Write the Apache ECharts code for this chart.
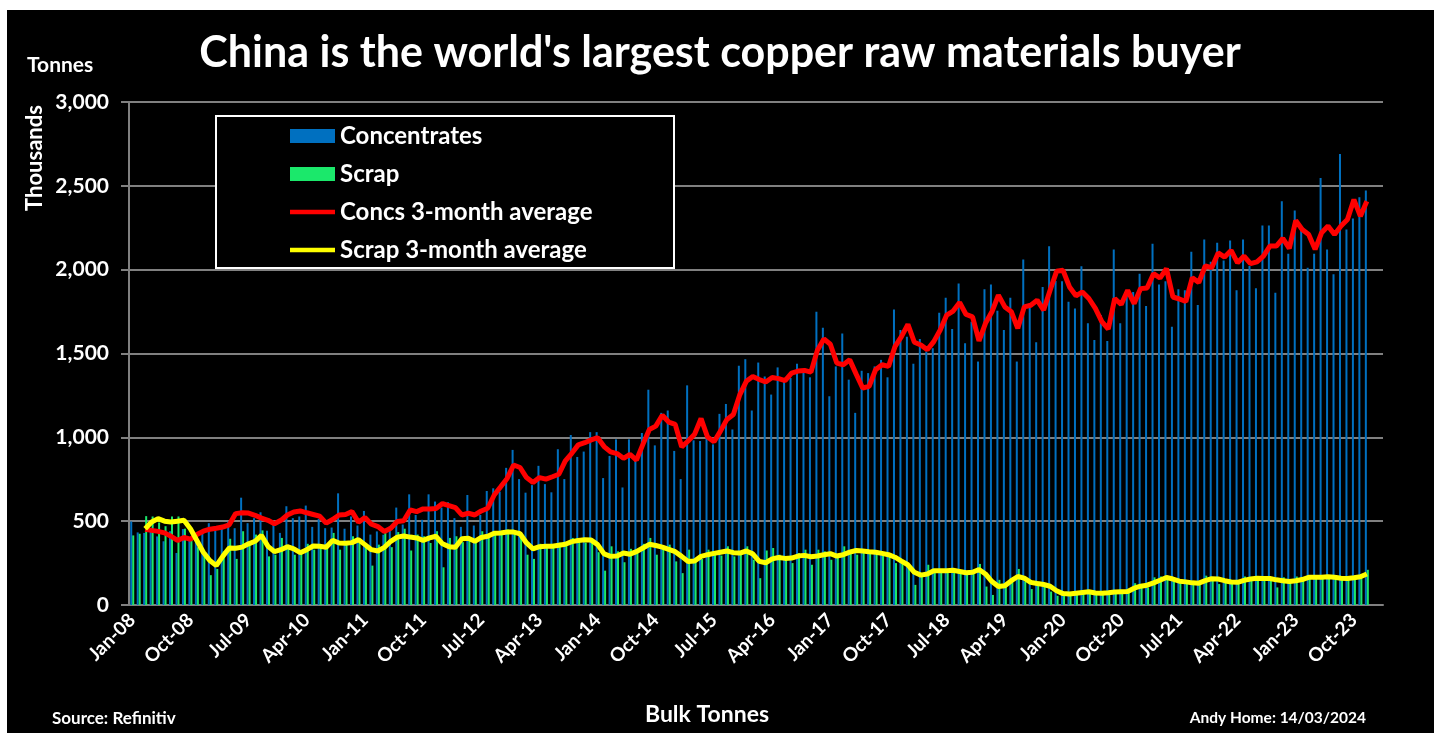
<!DOCTYPE html>
<html><head><meta charset="utf-8">
<script src="https://cdn.jsdelivr.net/npm/echarts@6/dist/echarts.min.js"></script>
<style>
html,body{margin:0;padding:0;background:#fff;width:1439px;height:733px;overflow:hidden}
#bg{position:absolute;left:7px;top:10px;width:1427px;height:723px;background:#000}
#chart{position:absolute;left:0;top:0;width:1439px;height:733px}
</style></head><body>
<div id="bg"></div><div id="chart"></div>
<script>
const MONTHS = ['Jan','Feb','Mar','Apr','May','Jun','Jul','Aug','Sep','Oct','Nov','Dec'];
const START_YEAR = 2008;
const N_CATEGORIES = 194; // Jan-08 .. Feb-24
const categories = [];
for (let i = 0; i < N_CATEGORIES; i++) {
  const y = START_YEAR + Math.floor(i / 12);
  categories.push(MONTHS[i % 12] + '-' + String(y % 100).padStart(2, '0'));
}
const yTicks = [0, 500, 1000, 1500, 2000, 2500, 3000];

// Concentrates imports, thousand tonnes (Jan-08 .. Dec-23)
const concentrates = [
  498,433,430,440,409,380,440,310,453,400,430,443,488,443,464,498,458,640,488,518,553,443,478,430,589,518,528,593,466,514,458,462,
  666,455,528,474,561,420,439,419,470,581,480,660,537,508,660,617,581,613,518,466,656,474,537,680,696,676,818,925,751,670,715,830,
  721,672,929,751,1014,883,915,1031,1031,757,889,988,701,988,860,1026,1284,952,1146,1160,919,751,1310,982,978,1000,958,1140,1199,1047,1427,1466,1160,
  1446,1363,1255,1417,1334,1354,1439,1393,1358,1749,1654,1245,1423,1620,1344,1146,1397,1383,1423,1462,1358,1763,1640,1600,1439,1587,1512,1531,1743,1832,1646,1917,
  1561,1690,1452,1883,1911,1755,1640,1832,1452,2061,1798,1567,1897,2140,1933,1931,1808,1769,2020,1680,1581,1729,1575,2120,1680,1848,1867,1976,1784,2154,1911,1931,1660,
  1883,1877,2107,1790,2180,2047,2160,2055,2174,1877,2180,2022,1889,2263,2263,1863,2408,2095,2353,2230,2012,2095,2547,2121,1972,2690,2240,2305,2432,2472
];
// Scrap imports, thousand tonnes
const scrap = [
  415,425,530,528,492,470,528,528,455,390,345,300,178,215,320,395,275,440,380,420,445,290,300,400,350,300,320,365,330,355,350,430,
  330,375,410,385,370,235,360,435,345,435,455,325,420,410,370,440,225,400,410,375,400,370,440,420,430,440,450,420,430,300,275,365,
  340,355,372,360,400,395,372,395,315,205,350,320,255,335,320,365,400,300,335,360,260,190,330,265,275,330,300,295,350,290,300,350,270,
  160,325,340,300,290,250,310,330,240,330,320,270,300,350,330,300,330,320,300,310,290,250,250,230,120,190,240,200,210,205,200,195,
  180,205,245,110,60,150,130,160,215,140,95,140,120,80,55,70,70,75,80,75,65,70,78,80,78,85,130,120,105,165,170,155,140,
  130,140,125,125,175,165,125,150,135,130,170,155,160,160,160,105,165,150,170,155,165,175,160,165,165,155,160,165,175,210
];
// Concs 3-month average
const concsAvg = [
  null,null,
  452,445,439,430,410,385,403,392,420,440,452,458,465,478,545,550,548,535,518,505,485,505,537,555,561,550,540,530,488,510,
  537,540,557,494,522,482,468,439,458,498,502,567,557,573,573,575,605,593,581,537,547,537,561,577,656,705,755,835,820,760,731,760,
  751,765,780,860,905,955,968,985,998,945,913,903,875,899,864,958,1047,1067,1132,1091,1077,943,978,1018,1112,1002,974,1037,1107,1136,1255,1334,1363,
  1345,1330,1357,1350,1338,1383,1395,1399,1389,1520,1587,1555,1443,1433,1462,1377,1294,1304,1403,1433,1423,1541,1601,1674,1567,1551,1522,1571,1640,1729,1753,1804,
  1733,1719,1575,1680,1749,1848,1778,1749,1650,1778,1788,1818,1759,1877,1990,1996,1897,1844,1867,1828,1769,1690,1646,1828,1792,1877,1798,1887,1891,1976,1950,2006,
  1837,1825,1810,1952,1923,2022,2012,2100,2075,2115,2041,2081,2036,2047,2081,2141,2141,2186,2127,2293,2240,2210,2121,2220,2260,2210,2260,2299,2418,2319,2408
];
// Scrap 3-month average
const scrapAvg = [
  null,null,
  455,495,515,500,495,500,505,455,385,315,265,235,290,340,338,345,365,380,415,350,318,330,348,335,312,330,352,350,345,385,
  370,368,372,390,360,330,322,344,380,405,412,405,400,385,400,410,365,348,345,395,398,380,403,410,428,430,435,435,425,370,335,348,
  350,350,356,362,378,385,389,387,360,305,290,292,310,303,318,340,362,355,345,332,318,290,260,262,290,300,308,315,322,312,310,322,305,
  260,252,275,283,278,280,292,296,288,292,300,306,292,300,315,325,322,318,315,308,300,285,262,240,195,178,185,204,204,205,207,200,
  192,195,212,185,140,110,115,145,170,160,135,128,122,112,85,68,65,70,75,79,72,70,73,77,79,80,100,112,118,132,148,164,
  155,142,138,132,130,145,157,155,145,137,135,147,155,160,158,158,150,145,140,145,152,165,165,165,168,165,160,158,162,168,185
];

const FONT = 'Lato, "Open Sans", sans-serif';
const GRAY = '#808080';
const LINE_ICON = 'path://M0,0 L48,0 L48,5 L0,5 Z';
const chart = echarts.init(document.getElementById('chart'), null, {renderer: 'canvas'});
chart.setOption({
  animation: false,
  backgroundColor: 'transparent',
  textStyle: {fontFamily: FONT},
  grid: {left: 129, right: 56, top: 102, bottom: 128, containLabel: false},
  legend: {
    orient: 'vertical', left: 285, top: 118,
    itemWidth: 45, itemHeight: 14, itemGap: 12,
    symbolKeepAspect: true,
    textStyle: {color: '#fff', fontSize: 24, fontWeight: 'bold', fontFamily: FONT, lineHeight: 26},
    data: [
      {name: 'Concentrates', icon: 'rect'},
      {name: 'Scrap', icon: 'rect'},
      {name: 'Concs 3-month average', icon: LINE_ICON},
      {name: 'Scrap 3-month average', icon: LINE_ICON}
    ]
  },
  xAxis: {
    type: 'category', data: categories, boundaryGap: true,
    axisLine: {lineStyle: {color: GRAY, width: 2}},
    axisTick: {interval: 8, length: 8, lineStyle: {color: GRAY, width: 2}},
    axisLabel: {interval: 8, rotate: 45, color: '#fff', fontSize: 19, fontWeight: 'bold', fontFamily: FONT, margin: 12},
    splitLine: {show: false}
  },
  yAxis: {
    type: 'value', min: yTicks[0], max: yTicks[yTicks.length - 1], interval: 500,
    axisLine: {show: true, lineStyle: {color: GRAY, width: 2}},
    axisTick: {show: true, length: 8, lineStyle: {color: GRAY, width: 2}},
    axisLabel: {color: '#fff', fontSize: 21, fontWeight: 'bold', fontFamily: FONT, margin: 20,
      formatter: v => v.toLocaleString('en-US')},
    splitLine: {lineStyle: {color: GRAY, width: 2}}
  },
  series: [
    {name: 'Concentrates', type: 'bar', data: concentrates, barWidth: 2, barGap: '0%',
      itemStyle: {color: '#0070C0'}, z: 2},
    {name: 'Scrap', type: 'bar', data: scrap, barWidth: 2, barGap: '0%',
      itemStyle: {color: '#1BE86B'}, z: 2},
    {name: 'Concs 3-month average', type: 'line', data: concsAvg, symbol: 'none', showSymbol: false,
      lineStyle: {color: '#FF0000', width: 5}, itemStyle: {color: '#FF0000'}, z: 4},
    {name: 'Scrap 3-month average', type: 'line', data: scrapAvg, symbol: 'none', showSymbol: false,
      lineStyle: {color: '#FFFF00', width: 5}, itemStyle: {color: '#FFFF00'}, z: 5}
  ],
  graphic: [
    {type: 'rect', left: 215, top: 115, shape: {width: 458, height: 152}, z: 1,
      style: {fill: '#000', stroke: '#fff', lineWidth: 2}},
    {type: 'text', x: 720, y: 53, z: 10, style: {text: "China is the world's largest copper raw materials buyer",
      fill: '#fff', font: 'bold 43px ' + FONT, textAlign: 'center', textVerticalAlign: 'middle'}},
    {type: 'text', x: 27, y: 65, z: 10, style: {text: 'Tonnes', fill: '#fff', font: 'bold 21px ' + FONT,
      textAlign: 'left', textVerticalAlign: 'middle'}},
    {type: 'text', x: 35, y: 158, rotation: Math.PI / 2, z: 10, style: {text: 'Thousands', fill: '#fff',
      font: 'bold 22px ' + FONT, textAlign: 'center', textVerticalAlign: 'middle'}},
    {type: 'text', x: 707, y: 715, z: 10, style: {text: 'Bulk Tonnes', fill: '#fff', font: 'bold 23px ' + FONT,
      textAlign: 'center', textVerticalAlign: 'middle'}},
    {type: 'text', x: 52, y: 719, z: 10, style: {text: 'Source: Refinitiv', fill: '#fff', font: 'bold 17px ' + FONT,
      textAlign: 'left', textVerticalAlign: 'middle'}},
    {type: 'text', x: 1366, y: 718, z: 10, style: {text: 'Andy Home: 14/03/2024', fill: '#fff', font: 'bold 15.5px ' + FONT,
      textAlign: 'right', textVerticalAlign: 'middle'}}
  ]
});
</script>
</body></html>
